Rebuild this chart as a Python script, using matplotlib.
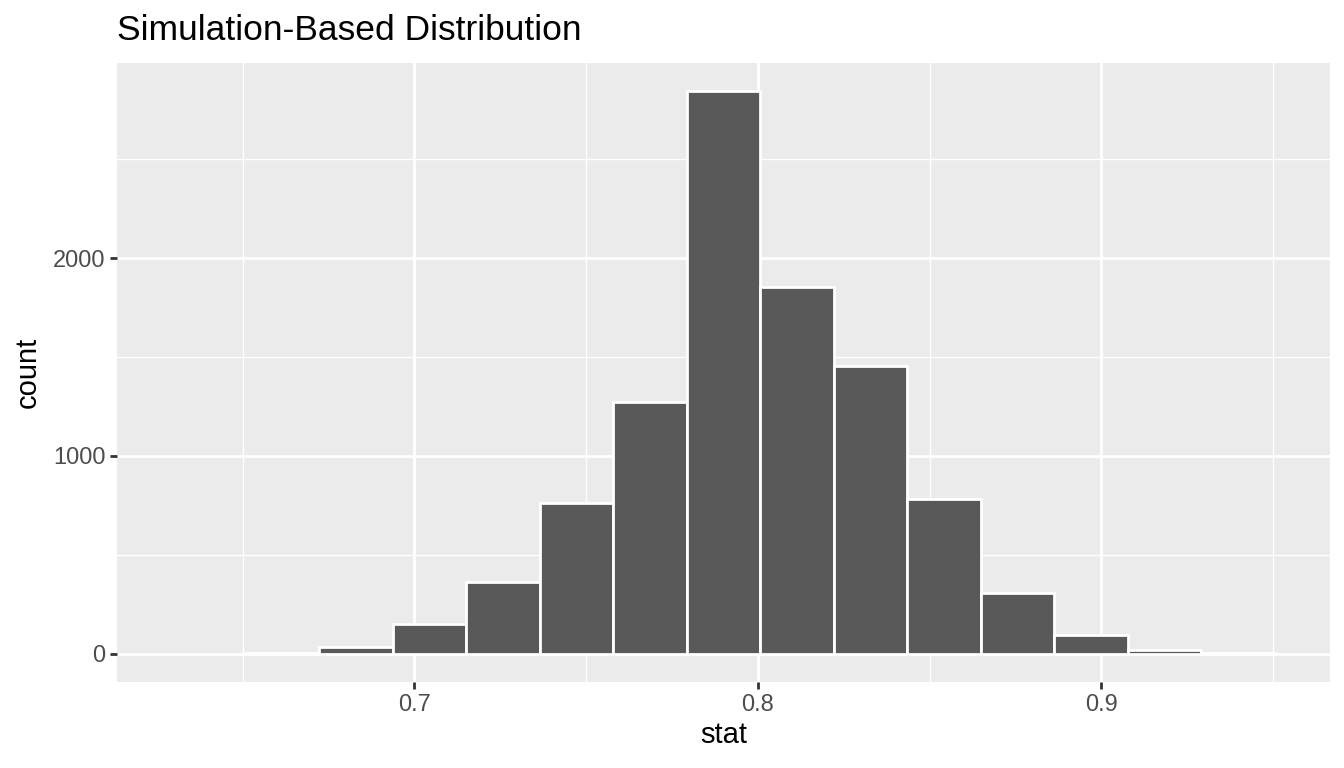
import matplotlib
matplotlib.use("Agg")
import matplotlib.pyplot as plt
import numpy as np

# Data (15 bins)
bin_left = 0.6295
bin_width = 0.02140
counts = [1, 4, 37, 149, 362, 763, 1272, 2844, 1856, 1455, 785, 306, 93, 22, 2]
x_ticks = [0.7, 0.8, 0.9]
x_tick_labels = ["0.7", "0.8", "0.9"]
y_ticks = [0, 1000, 2000]
y_tick_labels = ["0", "1000", "2000"]

plt.rcParams['font.family'] = ['Liberation Sans', 'DejaVu Sans']

fig = plt.figure(figsize=(13.44, 7.68), dpi=100)
ax = fig.add_axes([117/1344, 1-682/768, (1330-117)/1344, (682-63)/768])

edges = bin_left + bin_width * np.arange(len(counts) + 1)
lefts = edges[:-1]
ax.bar(lefts, counts, width=bin_width, align='edge', color='#595959',
       edgecolor='white', linewidth=2.0, zorder=3)

xmin, xmax = edges[0], edges[-1]
xr = xmax - xmin
ax.set_xlim(xmin - 0.05 * xr, xmax + 0.05 * xr)
ymax = max(counts)
ax.set_ylim(-0.05 * ymax, ymax * 1.05)

ax.set_facecolor('#EBEBEB')
for s in ax.spines.values():
    s.set_visible(False)

ax.set_xticks(x_ticks)
ax.set_xticklabels(x_tick_labels)
ax.set_yticks(y_ticks)
ax.set_yticklabels(y_tick_labels)
ax.set_xticks([0.65, 0.75, 0.85, 0.95], minor=True)
ax.set_yticks([500, 1500, 2500], minor=True)

ax.grid(which='major', color='white', linewidth=2.0, zorder=0)
ax.grid(which='minor', color='white', linewidth=1.0, zorder=0)
ax.set_axisbelow(True)

ax.tick_params(which='major', length=5.3, width=2.0, color='#333333',
               labelsize=17, labelcolor='#4D4D4D', pad=3)
ax.tick_params(which='minor', length=0)

ax.set_xlabel('stat', fontsize=21, color='black', labelpad=4)
ax.set_ylabel('count', fontsize=21, color='black', labelpad=8)

fig.text(117/1344, 1-40/768, 'Simulation-Based Distribution', fontsize=25.5,
         color='black', ha='left', va='baseline')

fig.savefig('out.png', dpi=100)
